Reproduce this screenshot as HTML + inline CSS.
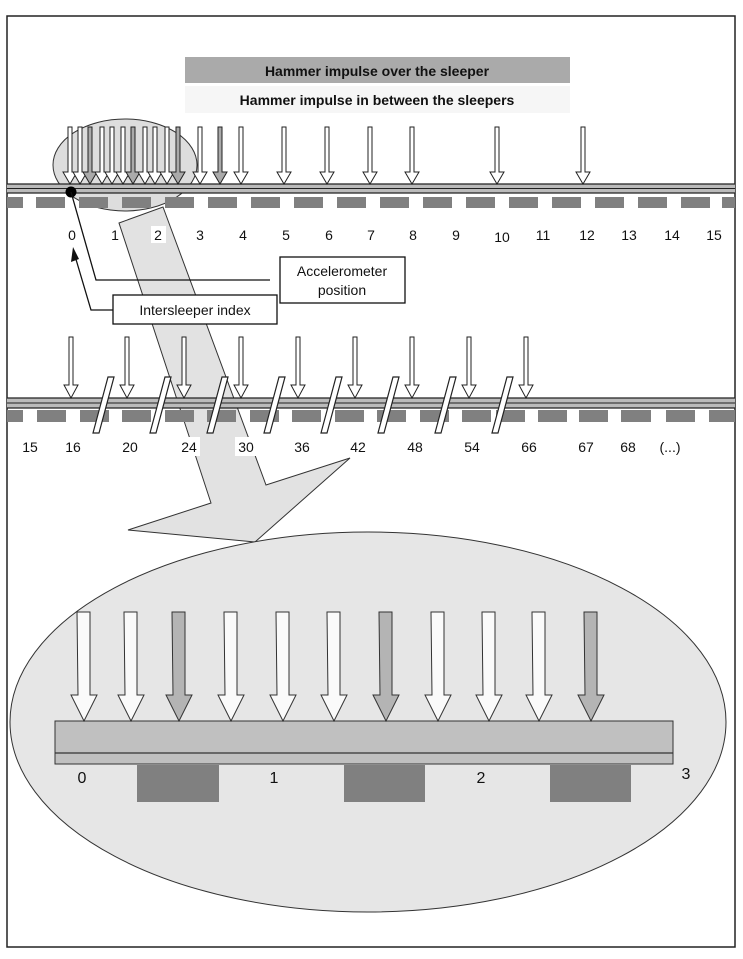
<!DOCTYPE html>
<html><head><meta charset="utf-8"><style>
html,body{margin:0;padding:0;background:#fff}
svg{display:block}
text{font-family:"Liberation Sans",Arial,sans-serif}
</style></head><body>
<svg width="743" height="959" viewBox="0 0 743 959" xmlns="http://www.w3.org/2000/svg">
<rect x="7" y="16" width="728" height="931" fill="#fff" stroke="#222" stroke-width="1.5"/>
<!-- header -->
<rect x="185" y="57" width="385" height="26" fill="#aaa"/>
<text x="377" y="76" font-size="14" font-weight="bold" text-anchor="middle" fill="#111">Hammer impulse over the sleeper</text>
<rect x="185" y="86" width="385" height="27" fill="#f6f6f6"/>
<text x="377" y="105" font-size="14" font-weight="bold" text-anchor="middle" fill="#111">Hammer impulse in between the sleepers</text>

<!-- small ellipse -->
<ellipse cx="125" cy="165" rx="72" ry="46" fill="#ddd" stroke="#333" stroke-width="1"/>

<!-- big swoosh -->
<polygon points="119,223 163,207 266,485 350,458 255,542 128,530 211,503" fill="#e2e2e2" stroke="#333" stroke-width="1"/>

<!-- big ellipse -->
<ellipse cx="368" cy="722" rx="358" ry="190" fill="#e6e6e6" stroke="#333" stroke-width="1"/>

<!-- top rail -->
<g id="toprail">
<rect x="7" y="184" width="728" height="9" fill="#bbb"/>
<line x1="7" y1="184" x2="735" y2="184" stroke="#222" stroke-width="1.3"/>
<line x1="7" y1="188.5" x2="735" y2="188.5" stroke="#222" stroke-width="1"/>
<line x1="7" y1="193" x2="735" y2="193" stroke="#222" stroke-width="1.3"/>
</g>
<g fill="#808080">
<rect x="7" y="197" width="16" height="11"/>
<rect x="36" y="197" width="29" height="11"/>
<rect x="79" y="197" width="29" height="11"/>
<rect x="122" y="197" width="29" height="11"/>
<rect x="165" y="197" width="29" height="11"/>
<rect x="208" y="197" width="29" height="11"/>
<rect x="251" y="197" width="29" height="11"/>
<rect x="294" y="197" width="29" height="11"/>
<rect x="337" y="197" width="29" height="11"/>
<rect x="380" y="197" width="29" height="11"/>
<rect x="423" y="197" width="29" height="11"/>
<rect x="466" y="197" width="29" height="11"/>
<rect x="509" y="197" width="29" height="11"/>
<rect x="552" y="197" width="29" height="11"/>
<rect x="595" y="197" width="29" height="11"/>
<rect x="638" y="197" width="29" height="11"/>
<rect x="681" y="197" width="29" height="11"/>
<rect x="722" y="197" width="13" height="11"/>
</g>
<!-- top labels -->
<g font-size="14" text-anchor="middle" fill="#111">
<text x="72" y="240">0</text>
<text x="115" y="240">1</text>
<rect x="151" y="226" width="15" height="17" fill="#fff"/>
<text x="158" y="240">2</text>
<text x="200" y="240">3</text>
<text x="243" y="240">4</text>
<text x="286" y="240">5</text>
<text x="329" y="240">6</text>
<text x="371" y="240">7</text>
<text x="413" y="240">8</text>
<text x="456" y="240">9</text>
<text x="502" y="242">10</text>
<text x="543" y="240">11</text>
<text x="587" y="240">12</text>
<text x="629" y="240">13</text>
<text x="672" y="240">14</text>
<text x="714" y="240">15</text>
</g>

<!-- top arrows -->
<g stroke="#222" stroke-width="1">
<path d="M68,127h4v45h5l-7,12l-7,-12h5z" fill="#fff"/>
<path d="M78,127h4v45h5l-7,12l-7,-12h5z" fill="#fff"/>
<path d="M88,127h4v45h5l-7,12l-7,-12h5z" fill="#aaa"/>
<path d="M100,127h4v45h5l-7,12l-7,-12h5z" fill="#fff"/>
<path d="M110,127h4v45h5l-7,12l-7,-12h5z" fill="#fff"/>
<path d="M121,127h4v45h5l-7,12l-7,-12h5z" fill="#fff"/>
<path d="M131,127h4v45h5l-7,12l-7,-12h5z" fill="#aaa"/>
<path d="M143,127h4v45h5l-7,12l-7,-12h5z" fill="#fff"/>
<path d="M153,127h4v45h5l-7,12l-7,-12h5z" fill="#fff"/>
<path d="M165,127h4v45h5l-7,12l-7,-12h5z" fill="#fff"/>
<path d="M176,127h4v45h5l-7,12l-7,-12h5z" fill="#aaa"/>
<path d="M198,127h4v45h5l-7,12l-7,-12h5z" fill="#fff"/>
<path d="M218,127h4v45h5l-7,12l-7,-12h5z" fill="#aaa"/>
<path d="M239,127h4v45h5l-7,12l-7,-12h5z" fill="#fff"/>
<path d="M282,127h4v45h5l-7,12l-7,-12h5z" fill="#fff"/>
<path d="M325,127h4v45h5l-7,12l-7,-12h5z" fill="#fff"/>
<path d="M368,127h4v45h5l-7,12l-7,-12h5z" fill="#fff"/>
<path d="M410,127h4v45h5l-7,12l-7,-12h5z" fill="#fff"/>
<path d="M495,127h4v45h5l-7,12l-7,-12h5z" fill="#fff"/>
<path d="M581,127h4v45h5l-7,12l-7,-12h5z" fill="#fff"/>
</g>

<!-- accelerometer -->
<circle cx="71" cy="192" r="5.5" fill="#000"/>
<polyline points="71,192 96,280 270,280" fill="none" stroke="#111" stroke-width="1.3"/>
<rect x="280" y="257" width="125" height="46" fill="#fff" stroke="#111" stroke-width="1.3"/>
<text x="342" y="276" font-size="14" text-anchor="middle" fill="#111">Accelerometer</text>
<text x="342" y="295" font-size="14" text-anchor="middle" fill="#111">position</text>
<polyline points="113,310 91,310 75,256" fill="none" stroke="#111" stroke-width="1.3"/>
<polygon points="73,247 71,262 79,259" fill="#111"/>
<rect x="113" y="295" width="164" height="29" fill="#fff" stroke="#111" stroke-width="1.3"/>
<text x="195" y="315" font-size="14" text-anchor="middle" fill="#111">Intersleeper index</text>

<!-- bottom rail -->
<rect x="7" y="398" width="728" height="10" fill="#bbb"/>
<line x1="7" y1="398" x2="735" y2="398" stroke="#222" stroke-width="1.3"/>
<line x1="7" y1="403" x2="735" y2="403" stroke="#222" stroke-width="1"/>
<line x1="7" y1="408" x2="735" y2="408" stroke="#222" stroke-width="1.3"/>
<g fill="#808080">
<rect x="7" y="410" width="16" height="12"/>
<rect x="37" y="410" width="29" height="12"/>
<rect x="80" y="410" width="29" height="12"/>
<rect x="122" y="410" width="29" height="12"/>
<rect x="165" y="410" width="29" height="12"/>
<rect x="207" y="410" width="29" height="12"/>
<rect x="250" y="410" width="29" height="12"/>
<rect x="292" y="410" width="29" height="12"/>
<rect x="335" y="410" width="29" height="12"/>
<rect x="377" y="410" width="29" height="12"/>
<rect x="420" y="410" width="29" height="12"/>
<rect x="462" y="410" width="29" height="12"/>
<rect x="496" y="410" width="29" height="12"/>
<rect x="538" y="410" width="29" height="12"/>
<rect x="579" y="410" width="29" height="12"/>
<rect x="621" y="410" width="30" height="12"/>
<rect x="666" y="410" width="29" height="12"/>
<rect x="709" y="410" width="26" height="12"/>
</g>
<!-- break marks -->
<g fill="#fff" stroke="#222" stroke-width="1.2">
<polygon points="93,433 108,377 114,377 99,433"/>
<polygon points="150,433 165,377 171,377 156,433"/>
<polygon points="207,433 222,377 228,377 213,433"/>
<polygon points="264,433 279,377 285,377 270,433"/>
<polygon points="321,433 336,377 342,377 327,433"/>
<polygon points="378,433 393,377 399,377 384,433"/>
<polygon points="435,433 450,377 456,377 441,433"/>
<polygon points="492,433 507,377 513,377 498,433"/>
</g>
<!-- bottom arrows -->
<g stroke="#222" stroke-width="1" fill="#fff">
<path d="M69,337h4v48h5l-7,13l-7,-13h5z"/>
<path d="M125,337h4v48h5l-7,13l-7,-13h5z"/>
<path d="M182,337h4v48h5l-7,13l-7,-13h5z"/>
<path d="M239,337h4v48h5l-7,13l-7,-13h5z"/>
<path d="M296,337h4v48h5l-7,13l-7,-13h5z"/>
<path d="M353,337h4v48h5l-7,13l-7,-13h5z"/>
<path d="M410,337h4v48h5l-7,13l-7,-13h5z"/>
<path d="M467,337h4v48h5l-7,13l-7,-13h5z"/>
<path d="M524,337h4v48h5l-7,13l-7,-13h5z"/>
</g>
<g font-size="14" text-anchor="middle" fill="#111">
<text x="30" y="452">15</text>
<text x="73" y="452">16</text>
<text x="130" y="452">20</text>
<rect x="178" y="437" width="22" height="19" fill="#fff"/>
<text x="189" y="452">24</text>
<rect x="235" y="437" width="22" height="19" fill="#fff"/>
<text x="246" y="452">30</text>
<text x="302" y="452">36</text>
<text x="358" y="452">42</text>
<text x="415" y="452">48</text>
<text x="472" y="452">54</text>
<text x="529" y="452">66</text>
<text x="586" y="452">67</text>
<text x="628" y="452">68</text>
<text x="670" y="452">(...)</text>
</g>

<!-- big rail -->
<rect x="55" y="721" width="618" height="43" fill="#c0c0c0" stroke="#333" stroke-width="1"/>
<line x1="55" y1="753" x2="673" y2="753" stroke="#333" stroke-width="1.3"/>
<g fill="#808080">
<rect x="137" y="765" width="82" height="37"/>
<rect x="344" y="765" width="81" height="37"/>
<rect x="550" y="765" width="81" height="37"/>
</g>
<g font-size="16" fill="#111" text-anchor="middle">
<text x="82" y="783">0</text>
<text x="274" y="783">1</text>
<text x="481" y="783">2</text>
<text x="686" y="779">3</text>
</g>
<g stroke="#333" stroke-width="1">
<path d="M77,612h13v83h7l-13,26l-13,-26h7z" fill="#fafafa"/>
<path d="M124,612h13v83h7l-13,26l-13,-26h7z" fill="#fafafa"/>
<path d="M172,612h13v83h7l-13,26l-13,-26h7z" fill="#b4b4b4"/>
<path d="M224,612h13v83h7l-13,26l-13,-26h7z" fill="#fafafa"/>
<path d="M276,612h13v83h7l-13,26l-13,-26h7z" fill="#fafafa"/>
<path d="M327,612h13v83h7l-13,26l-13,-26h7z" fill="#fafafa"/>
<path d="M379,612h13v83h7l-13,26l-13,-26h7z" fill="#b4b4b4"/>
<path d="M431,612h13v83h7l-13,26l-13,-26h7z" fill="#fafafa"/>
<path d="M482,612h13v83h7l-13,26l-13,-26h7z" fill="#fafafa"/>
<path d="M532,612h13v83h7l-13,26l-13,-26h7z" fill="#fafafa"/>
<path d="M584,612h13v83h7l-13,26l-13,-26h7z" fill="#b4b4b4"/>
</g>
</svg>
</body></html>
